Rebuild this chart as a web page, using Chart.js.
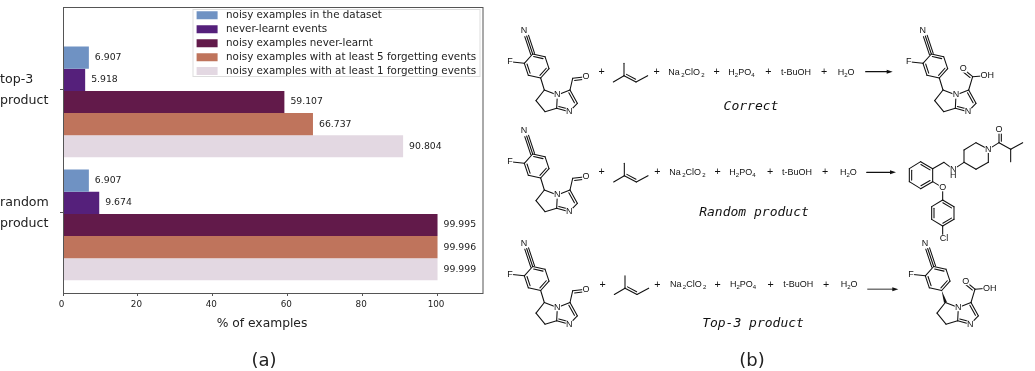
<!DOCTYPE html>
<html>
<head>
<meta charset="utf-8">
<title>Forgetting events</title>
<script src="https://cdn.jsdelivr.net/npm/chart.js@4"></script>
<style>
  html, body { margin: 0; padding: 0; background: #fff; }
  canvas { display: block; filter: blur(0.35px); }
</style>
</head>
<body>
<canvas id="chart" width="1035" height="371"></canvas>
<script>
// values
const barPositions = [0, 1];
const tickPositions = [-0.0976, 0.9024];
const tickLabels = [['top-3', 'product'], ['random', 'product']];
const noisyInDataset = [6.907, 6.907];
const neverLearnt = [5.918, 9.674];
const noisyNeverLearnt = [59.107, 99.995];
const noisyForget5 = [66.737, 99.996];
const noisyForget1 = [90.804, 99.999];

const seriesNames = [
  'noisy examples in the dataset',
  'never-learnt events',
  'noisy examples never-learnt',
  'noisy examples with at least 5 forgetting events',
  'noisy examples with at least 1 forgetting events',
];
const seriesValues = [noisyInDataset, neverLearnt, noisyNeverLearnt, noisyForget5, noisyForget1];
const seriesColors = ['#6f92c3', '#55207b', '#621a4a', '#bf745c', '#e3d8e2'];

const axisColor = '#555';
const textColor = '#222';
const inkColor = '#111';
const sans = '"DejaVu Sans"';

// value written right of each bar
const valueLabels = {
  id: 'valueLabels',
  afterDatasetsDraw(chart) {
    const { ctx } = chart;
    ctx.save();
    ctx.font = `9.3px ${sans}`;
    ctx.fillStyle = textColor;
    ctx.textAlign = 'left';
    ctx.textBaseline = 'middle';
    chart.data.datasets.forEach((d, i) => {
      chart.getDatasetMeta(i).data.forEach((bar, j) => {
        ctx.fillText(d.data[j].x.toFixed(3), bar.x + 6, bar.y);
      });
    });
    ctx.restore();
  },
};

// moves the legend to the upper right of the plot, draws its frame and the outer spines
const frame = {
  id: 'frame',
  afterLayout(chart) {
    const l = chart.legend;
    l.left = 193;
    l.right = 480;
    l.top = 6.5;
    l.bottom = 200;
  },
  beforeDraw(chart) {
    const { ctx } = chart;
    ctx.save();
    ctx.fillStyle = '#fff';
    ctx.strokeStyle = '#ddd';
    ctx.lineWidth = 1;
    ctx.fillRect(193, 9.5, 287, 67);
    ctx.strokeRect(193, 9.5, 287, 67);
    ctx.restore();
  },
  afterDraw(chart) {
    const { ctx, chartArea: a } = chart;
    ctx.save();
    ctx.strokeStyle = axisColor;
    ctx.lineWidth = 1;
    ctx.strokeRect(a.left + 0.5, a.top + 0.5, a.right - a.left, a.bottom - a.top);
    ctx.fillStyle = textColor;
    ctx.textAlign = 'center';
    ctx.textBaseline = 'middle';
    ctx.font = `12.3px ${sans}`;
    ctx.fillText('% of examples', 262, 324);
    ctx.restore();
  },
};

// ---- panel (b): reaction schemes, coordinates in 3x units ----
function bond(ctx, a, b, order = 1, side = 1) {
  const dx = b[0] - a[0];
  const dy = b[1] - a[1];
  const len = Math.hypot(dx, dy);
  const nx = -dy / len;
  const ny = dx / len;
  const line = (off, trim) => {
    ctx.beginPath();
    ctx.moveTo(a[0] + nx * off + dx * trim, a[1] + ny * off + dy * trim);
    ctx.lineTo(b[0] + nx * off - dx * trim, b[1] + ny * off - dy * trim);
    ctx.stroke();
  };
  line(0, 0);
  if (order === 2) line(side * 7, 0.12);
  if (order === 3) { line(6, 0); line(-6, 0); }
}

function chain(ctx, pts, order = 1) {
  for (let i = 0; i < pts.length - 1; i += 1) bond(ctx, pts[i], pts[i + 1], order);
}

function atom(ctx, label, x, y) {
  const w = ctx.measureText(label).width;
  ctx.fillStyle = '#fff';
  ctx.fillRect(x - w / 2 - 1, y - 11, w + 2, 22);
  ctx.fillStyle = inkColor;
  ctx.fillText(label, x, y);
}

function aromatic(ctx, pts) {
  pts.forEach((p, i) => {
    bond(ctx, p, pts[(i + 1) % 6], i % 2 === 0 ? 2 : 1, 1);
  });
}

// the shared fluoro-cyanophenyl imidazole part
function core(ctx, wedge) {
  const r = [[98, 132], [135, 140], [147, 176], [122, 204], [85, 196], [73, 160]];
  aromatic(ctx, r);
  bond(ctx, [80, 78], r[0], 3);
  bond(ctx, [30, 155], r[5]);
  const c5 = [133, 240];
  const n1 = [172, 255];
  const c2 = [170, 295];
  const c6 = [135, 305];
  const c7 = [108, 272];
  const c3 = [210, 240];
  const c4 = [232, 280];
  const n3 = [208, 305];
  if (wedge) {
    ctx.fillStyle = inkColor;
    ctx.beginPath();
    ctx.moveTo(r[3][0], r[3][1]);
    ctx.lineTo(c5[0] + 5, c5[1] - 1);
    ctx.lineTo(c5[0] - 4, c5[1] + 1);
    ctx.fill();
  } else {
    bond(ctx, r[3], c5);
  }
  chain(ctx, [c5, n1, c2, c6, c7, c5]);
  bond(ctx, n1, c3);
  bond(ctx, c3, c4, 2, 1);
  bond(ctx, c4, n3);
  bond(ctx, n3, c2, 2, 1);
  atom(ctx, 'N', 72, 62);
  atom(ctx, 'F', 30, 155);
  atom(ctx, 'N', n1[0], n1[1]);
  atom(ctx, 'N', n3[0], n3[1]);
}

function aldehyde(ctx) {
  const c3 = [210, 240];
  bond(ctx, c3, [218, 205]);
  bond(ctx, [218, 205], [258, 200], 2, 1);
  atom(ctx, 'O', 258, 200);
}

function acid(ctx) {
  const c3 = [210, 240];
  const c = [222, 200];
  bond(ctx, c3, c);
  bond(ctx, c, [194, 177], 2, -1);
  bond(ctx, c, [250, 198]);
  atom(ctx, 'O', 194, 177);
  atom(ctx, 'OH', 266, 198);
}

function formula(ctx, text, x, y, gap = 0) {
  ctx.textAlign = 'left';
  ctx.fillStyle = inkColor;
  let pos = x;
  text.split(/(\d)/).forEach((part) => {
    if (!part) return;
    if (/\d/.test(part)) {
      ctx.font = '18px "Liberation Sans"';
      ctx.fillText(part, pos + gap, y + 8);
      pos += ctx.measureText(part).width + gap;
    } else {
      ctx.font = '27px "Liberation Sans"';
      ctx.fillText(part, pos, y);
      pos += ctx.measureText(part).width;
    }
  });
}

function reagents(ctx, row) {
  // alkene
  const o = row.alkene;
  const top = [o, 160];
  const mid = [o, 197];
  bond(ctx, top, mid);
  bond(ctx, [o - 32, 216], mid);
  bond(ctx, mid, [o + 36, 216], 2, -1);
  bond(ctx, [o + 36, 216], [o + 71, 197]);
  ctx.textAlign = 'center';
  ctx.fillStyle = inkColor;
  ctx.font = '32px "Liberation Sans"';
  row.plus.forEach((x) => ctx.fillText('+', x, row.y));
  formula(ctx, 'Na2ClO2', row.na, row.y, 4);
  formula(ctx, 'H2PO4', row.h3, row.y);
  formula(ctx, 't-BuOH', row.tbu, row.y);
  formula(ctx, 'H2O', row.h2o, row.y);
  ctx.strokeStyle = inkColor;
  ctx.lineWidth = row.arrowWidth;
  ctx.beginPath();
  ctx.moveTo(row.arrow[0], row.arrow[2]);
  ctx.lineTo(row.arrow[1] - 12, row.arrow[2]);
  ctx.stroke();
  ctx.fillStyle = inkColor;
  ctx.beginPath();
  ctx.moveTo(row.arrow[1], row.arrow[2]);
  ctx.lineTo(row.arrow[1] - 18, row.arrow[2] - 6);
  ctx.lineTo(row.arrow[1] - 18, row.arrow[2] + 6);
  ctx.fill();
}

function randomProduct(ctx) {
  const ring1 = [[1262, 125], [1298, 146], [1298, 185], [1262, 206], [1228, 185], [1228, 146]];
  aromatic(ctx, ring1);
  chain(ctx, [ring1[1], [1332, 127], [1360, 148], [1392, 127]]);
  const pip = [[1392, 127], [1392, 90], [1428, 68], [1465, 88], [1465, 127], [1428, 148]];
  pip.forEach((p, i) => bond(ctx, p, pip[(i + 1) % 6]));
  bond(ctx, pip[3], [1497, 68]);
  bond(ctx, [1497, 68], [1497, 34], 2, 1);
  chain(ctx, [[1497, 68], [1532, 88], [1568, 68]]);
  bond(ctx, [1532, 88], [1532, 125]);
  bond(ctx, ring1[2], [1328, 203]);
  const ring2 = [[1328, 240], [1362, 260], [1362, 298], [1328, 318], [1295, 298], [1295, 260]];
  bond(ctx, [1328, 203], ring2[0]);
  aromatic(ctx, ring2);
  bond(ctx, ring2[3], [1328, 350]);
  atom(ctx, 'N', 1360, 148);
  atom(ctx, 'H', 1360, 168);
  atom(ctx, 'N', 1465, 88);
  atom(ctx, 'O', 1497, 30);
  atom(ctx, 'O', 1328, 203);
  atom(ctx, 'Cl', 1332, 355);
}

const rows = [
  { oy: 10, y: 187, alkene: 372, plus: [305, 470, 650, 805, 972], na: 505, h3: 685, tbu: 843, h2o: 1013, arrow: [1097, 1178, 185], arrowWidth: 3.5, pdx: 1196, pdy: 0, wedge: false, caption: 'Correct', capX: 751, capY: 107 },
  { oy: 110, y: 187, alkene: 373, plus: [305, 472, 653, 810, 975], na: 508, h3: 688, tbu: 846, h2o: 1020, arrow: [1100, 1188, 187], arrowWidth: 3.5, caption: 'Random product', capX: 754, capY: 213 },
  { oy: 222.5, y: 187, alkene: 375, plus: [308, 472, 653, 812, 978], na: 510, h3: 690, tbu: 850, h2o: 1022, arrow: [1103, 1195, 200], arrowWidth: 2.6, pdx: 1203, pdy: 0, wedge: true, caption: 'Top-3 product', capX: 753, capY: 324 },
];

const scheme = {
  id: 'scheme',
  afterDraw(chart) {
    const { ctx } = chart;
    ctx.save();
    ctx.textBaseline = 'middle';
    ctx.lineCap = 'round';
    rows.forEach((row, i) => {
      ctx.save();
      ctx.translate(500, row.oy);
      ctx.scale(1 / 3, 1 / 3);
      ctx.strokeStyle = inkColor;
      ctx.lineWidth = 3.2;
      ctx.textAlign = 'center';
      ctx.font = '27px "Liberation Sans"';
      core(ctx, false);
      aldehyde(ctx);
      reagents(ctx, row);
      ctx.strokeStyle = inkColor;
      ctx.lineWidth = 3.2;
      ctx.textAlign = 'center';
      ctx.font = '27px "Liberation Sans"';
      if (i === 1) {
        ctx.translate(0, 30);
        randomProduct(ctx);
      } else {
        ctx.translate(row.pdx, row.pdy);
        core(ctx, row.wedge);
        acid(ctx);
      }
      ctx.restore();
      ctx.fillStyle = inkColor;
      ctx.textAlign = 'center';
      ctx.font = 'oblique 13px "DejaVu Sans Mono"';
      ctx.fillText(row.caption, row.capX, row.capY);
    });
    ctx.fillStyle = textColor;
    ctx.font = `18px ${sans}`;
    ctx.fillText('(a)', 264, 361);
    ctx.fillText('(b)', 752, 361);
    ctx.restore();
  },
};

new Chart(document.querySelector('#chart'), {
  type: 'bar',
  data: {
    datasets: seriesNames.map((label, i) => ({
      label,
      data: seriesValues[i].map((x, j) => ({ x, y: barPositions[j] })),
      backgroundColor: seriesColors[i],
      borderWidth: 0,
      categoryPercentage: 0.9,
      barPercentage: 1,
    })),
  },
  options: {
    indexAxis: 'y',
    responsive: false,
    animation: false,
    layout: { padding: { top: 7, right: 552.5, bottom: 39, left: 0 } },
    plugins: {
      tooltip: { enabled: false },
      title: { display: false },
      legend: {
        position: 'chartArea',
        align: 'start',
        labels: {
          boxWidth: 21,
          boxHeight: 8,
          padding: 3.6,
          color: textColor,
          font: { family: sans, size: 10.35 },
          generateLabels(chart) {
            return Chart.defaults.plugins.legend.labels.generateLabels(chart)
              .map((item) => ({ ...item, text: ` ${item.text}` }));
          },
        },
      },
    },
    scales: {
      x: {
        type: 'linear',
        min: 0,
        max: 112,
        border: { color: axisColor },
        grid: { drawOnChartArea: false, tickLength: 3, tickColor: axisColor, color: axisColor },
        ticks: {
          stepSize: 20,
          includeBounds: false,
          maxRotation: 0,
          padding: 3,
          labelOffset: -1.5,
          color: textColor,
          font: { family: sans, size: 8.8 },
        },
        afterFit(scale) { scale.height = 39; },
      },
      y: {
        type: 'linear',
        reverse: true,
        offset: false,
        min: -0.772,
        max: 1.553,
        border: { color: axisColor },
        grid: { offset: false, drawOnChartArea: false, tickLength: 3, tickColor: axisColor, color: axisColor },
        afterBuildTicks(scale) { scale.ticks = tickPositions.map((value) => ({ value })); },
        ticks: {
          autoSkip: false,
          crossAlign: 'far',
          color: textColor,
          font: { family: sans, size: 12.6, lineHeight: 1.67 },
          callback: (v, i) => tickLabels[i],
        },
        afterFit(scale) {
          scale.width = 63;
          scale.paddingTop = 0;
          scale.paddingBottom = 0;
        },
      },
    },
  },
  plugins: [valueLabels, frame, scheme],
});
</script>
</body>
</html>
